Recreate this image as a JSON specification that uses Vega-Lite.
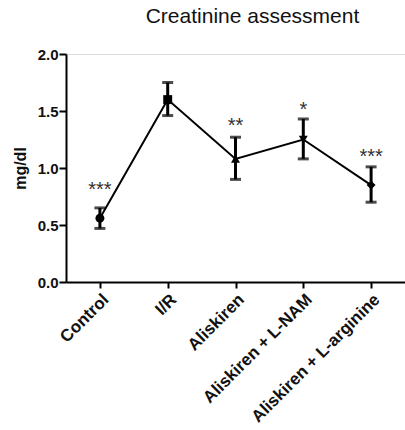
{
  "$schema": "https://vega.github.io/schema/vega-lite/v6.json",
  "width": 339,
  "height": 228,
  "autosize": "none",
  "padding": {"left": 66, "top": 54, "right": 0, "bottom": 148},
  "background": "white",
  "title": {"text": "Creatinine assessment", "fontSize": 21, "fontWeight": "normal", "font": "Liberation Sans", "color": "#111", "offset": 20, "dx": 17, "anchor": "middle"},
  "data": {"values": [
    {"group": "Control", "mean": 0.56, "lo": 0.47, "hi": 0.65, "sig": "***", "sigY": 0.81},
    {"group": "I/R", "mean": 1.60, "lo": 1.46, "hi": 1.75, "sig": "", "sigY": 1.9},
    {"group": "Aliskiren", "mean": 1.08, "lo": 0.90, "hi": 1.27, "sig": "**", "sigY": 1.37},
    {"group": "Aliskiren + L-NAM", "mean": 1.25, "lo": 1.08, "hi": 1.43, "sig": "*", "sigY": 1.51},
    {"group": "Aliskiren + L-arginine", "mean": 0.85, "lo": 0.70, "hi": 1.01, "sig": "***", "sigY": 1.10}
  ]},
  "encoding": {
    "x": {"field": "group", "type": "nominal", "sort": null, "scale": {"type": "point", "padding": 0.5},
      "axis": {"title": null, "labelAngle": -45, "labelFontSize": 17, "labelFontWeight": "bold", "labelFont": "Liberation Sans", "labelColor": "#111", "domainColor": "#000", "domainWidth": 2, "tickColor": "#000", "tickWidth": 2, "tickSize": 6, "labelPadding": 3, "grid": false}}
  },
  "layer": [
    {"mark": {"type": "line", "color": "#000", "strokeWidth": 2},
     "encoding": {"y": {"field": "mean", "type": "quantitative", "scale": {"domain": [0, 2]},
       "axis": {"title": "mg/dl", "titleFontSize": 16, "titleFontWeight": "bold", "titleFont": "Liberation Sans", "titleColor": "#111", "titlePadding": 9, "values": [0, 0.5, 1, 1.5, 2], "format": ".1f", "labelFontSize": 15, "labelFontWeight": "bold", "labelFont": "Liberation Sans", "labelColor": "#111", "labelPadding": 1, "domainColor": "#000", "domainWidth": 2, "tickColor": "#000", "tickWidth": 2, "tickSize": 7, "grid": false}}}},
    {"mark": {"type": "rule", "color": "#000", "strokeWidth": 3},
     "encoding": {"y": {"field": "lo", "type": "quantitative"}, "y2": {"field": "hi"}}},
    {"mark": {"type": "tick", "color": "#000", "thickness": 3, "size": 11, "orient": "horizontal"},
     "encoding": {"y": {"field": "lo", "type": "quantitative"}}},
    {"mark": {"type": "tick", "color": "#000", "thickness": 3, "size": 11, "orient": "horizontal"},
     "encoding": {"y": {"field": "hi", "type": "quantitative"}}},
    {"mark": {"type": "point", "filled": true, "color": "#000", "opacity": 1, "size": 80},
     "encoding": {"y": {"field": "mean", "type": "quantitative"},
       "shape": {"field": "group", "type": "nominal", "legend": null, "scale": {"domain": ["Control", "I/R", "Aliskiren", "Aliskiren + L-NAM", "Aliskiren + L-arginine"], "range": ["circle", "square", "triangle-up", "triangle-down", "diamond"]}}}},
    {"mark": {"type": "text", "fontSize": 20, "font": "Liberation Sans", "color": "#333", "baseline": "middle"},
     "encoding": {"y": {"field": "sigY", "type": "quantitative"}, "text": {"field": "sig"}}}
  ]
}
